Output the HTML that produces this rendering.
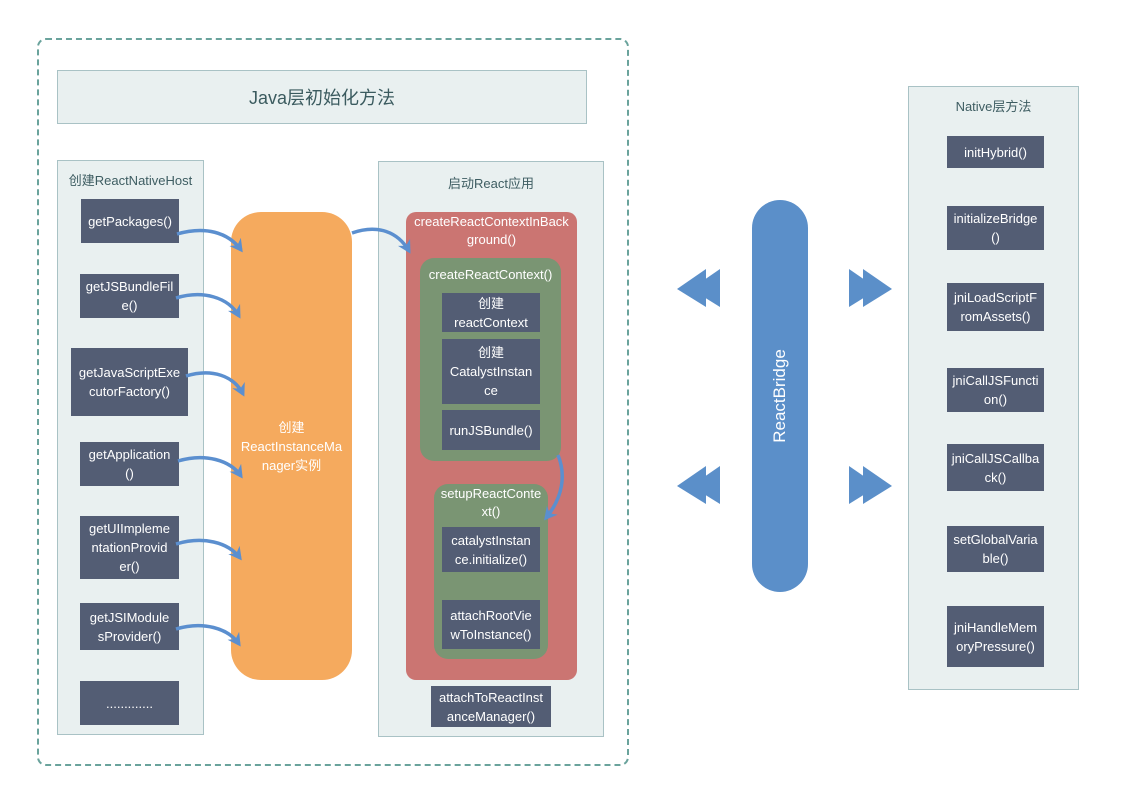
<!DOCTYPE html>
<html><head><meta charset="utf-8"><style>
body{margin:0;width:1123px;height:794px;background:#fff;position:relative;overflow:hidden;font-family:"Liberation Sans","Noto Sans CJK SC",sans-serif;}
.a{position:absolute;box-sizing:border-box;}
.p{background:#e9f0f0;border:1px solid #a9c2c5;}
.d{position:absolute;box-sizing:border-box;background:#535d74;color:#fff;font-size:13px;letter-spacing:0;line-height:19px;display:flex;align-items:center;justify-content:center;text-align:center;white-space:nowrap;}
.t{position:absolute;color:#3e5d62;font-size:13px;text-align:center;}
</style></head><body>
<div class="a" style="left:37px;top:38px;width:592px;height:728px;border:2px dashed #6aa39c;border-radius:9px;"></div>
<div class="a p" style="left:57px;top:70px;width:530px;height:54px;display:flex;align-items:center;justify-content:center;color:#3b5b5f;font-size:18px;">Java层初始化方法</div>

<div class="a p" style="left:57px;top:160px;width:147px;height:575px;"></div>
<div class="t" style="left:57px;top:170px;width:147px;">创建ReactNativeHost</div>
<div class="d" style="left:81px;top:199px;width:98px;height:44px;">getPackages()</div>
<div class="d" style="left:80px;top:274px;width:99px;height:44px;">getJSBundleFil<br>e()</div>
<div class="d" style="left:71px;top:348px;width:117px;height:68px;">getJavaScriptExe<br>cutorFactory()</div>
<div class="d" style="left:80px;top:442px;width:99px;height:44px;">getApplication<br>()</div>
<div class="d" style="left:80px;top:516px;width:99px;height:63px;">getUIImpleme<br>ntationProvid<br>er()</div>
<div class="d" style="left:80px;top:603px;width:99px;height:47px;">getJSIModule<br>sProvider()</div>
<div class="d" style="left:80px;top:681px;width:99px;height:44px;">.............</div>

<div class="a" style="left:231px;top:212px;width:121px;height:468px;background:#f5aa5e;border-radius:30px;color:#fff;font-size:13px;line-height:19px;display:flex;align-items:center;justify-content:center;text-align:center;white-space:nowrap;">创建<br>ReactInstanceMa<br>nager实例</div>

<div class="a p" style="left:378px;top:161px;width:226px;height:576px;"></div>
<div class="t" style="left:378px;top:173px;width:226px;">启动React应用</div>
<div class="a" style="left:406px;top:212px;width:171px;height:468px;background:#cb7572;border-radius:10px;"></div>
<div class="a" style="left:406px;top:213px;width:171px;color:#fff;font-size:13px;line-height:18px;text-align:center;white-space:nowrap;">createReactContextInBack<br>ground()</div>
<div class="a" style="left:420px;top:258px;width:141px;height:203px;background:#7a9573;border-radius:14px;"></div>
<div class="a" style="left:420px;top:267px;width:141px;color:#fff;font-size:13px;text-align:center;">createReactContext()</div>
<div class="d" style="left:442px;top:293px;width:98px;height:39px;">创建<br>reactContext</div>
<div class="d" style="left:442px;top:339px;width:98px;height:65px;">创建<br>CatalystInstan<br>ce</div>
<div class="d" style="left:442px;top:410px;width:98px;height:40px;">runJSBundle()</div>
<div class="a" style="left:434px;top:484px;width:114px;height:175px;background:#7a9573;border-radius:14px;"></div>
<div class="a" style="left:434px;top:485px;width:114px;color:#fff;font-size:13px;line-height:18px;text-align:center;white-space:nowrap;">setupReactConte<br>xt()</div>
<div class="d" style="left:442px;top:527px;width:98px;height:45px;">catalystInstan<br>ce.initialize()</div>
<div class="d" style="left:442px;top:600px;width:98px;height:49px;">attachRootVie<br>wToInstance()</div>
<div class="d" style="left:431px;top:686px;width:120px;height:41px;">attachToReactInst<br>anceManager()</div>

<div class="a" style="left:752px;top:200px;width:56px;height:392px;background:#5b8fc9;border-radius:28px;"></div>
<div class="a" style="left:680px;top:386px;width:200px;text-align:center;color:#fff;font-size:17px;transform:rotate(-90deg);">ReactBridge</div>

<div class="a p" style="left:908px;top:86px;width:171px;height:604px;"></div>
<div class="t" style="left:908px;top:96px;width:171px;">Native层方法</div>
<div class="d" style="left:947px;top:136px;width:97px;height:32px;">initHybrid()</div>
<div class="d" style="left:947px;top:206px;width:97px;height:44px;">initializeBridge<br>()</div>
<div class="d" style="left:947px;top:283px;width:97px;height:48px;">jniLoadScriptF<br>romAssets()</div>
<div class="d" style="left:947px;top:368px;width:97px;height:44px;">jniCallJSFuncti<br>on()</div>
<div class="d" style="left:947px;top:444px;width:97px;height:47px;">jniCallJSCallba<br>ck()</div>
<div class="d" style="left:947px;top:526px;width:97px;height:46px;">setGlobalVaria<br>ble()</div>
<div class="d" style="left:947px;top:606px;width:97px;height:61px;">jniHandleMem<br>oryPressure()</div>

<svg class="a" style="left:0;top:0" width="1123" height="794">
<defs><marker id="m" markerWidth="14" markerHeight="14" refX="10" refY="7" orient="auto" markerUnits="userSpaceOnUse"><path d="M0,0 L13,7 L0,14 L4,7Z" fill="#5b8fcf"/></marker></defs>
<g stroke="#5b8fcf" stroke-width="3.5" fill="none" marker-end="url(#m)">
<path d="M177,234 C205,226 228,232 241,250"/>
<path d="M176,298 C203,290 228,297 239,316"/>
<path d="M186,376 C212,368 234,376 243,394"/>
<path d="M178,461 C205,453 230,460 241,476"/>
<path d="M176,544 C203,536 228,542 240,558"/>
<path d="M176,629 C203,621 228,628 239,644"/>
<path d="M352,233 C378,224 398,232 409,251"/>
<path d="M558,455 C566,475 563,497 546,518"/>
</g>
<g fill="#5b8fc9">
<polygon points="677,289 706,269 706,307"/><polygon points="691,289 720,269 720,307"/>
<polygon points="677,486 706,466 706,504"/><polygon points="691,486 720,466 720,504"/>
<polygon points="849,269 878,289 849,307"/><polygon points="863,269 892,289 863,307"/>
<polygon points="849,466 878,486 849,504"/><polygon points="863,466 892,486 863,504"/>
</g>
</svg>
</body></html>
